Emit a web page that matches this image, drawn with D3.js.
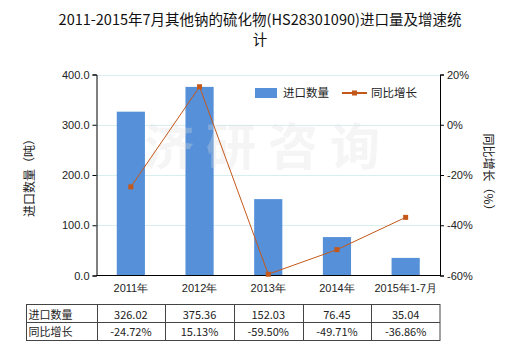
<!DOCTYPE html>
<html>
<head>
<meta charset="utf-8">
<script src="https://cdn.jsdelivr.net/npm/d3@7"></script>
<style>
  body { margin: 0; background: #fff; }
  svg { font-family: "Microsoft YaHei", "Noto Sans CJK SC", sans-serif; }
</style>
</head>
<body>
<svg id="chart" width="520" height="350"></svg>
<script>
var categories = ['2011年', '2012年', '2013年', '2014年', '2015年1-7月']
var volume = [326.02, 375.36, 152.03, 76.45, 35.04]
var growth = [-24.72, 15.13, -59.50, -49.71, -36.86]
var leftTicks = [0, 100, 200, 300, 400]
var rightTicks = [-60, -40, -20, 0, 20]

var svg = d3.select('#chart')
var plotLeft = 96.5, plotRight = 440, plotTop = 74.5, plotBottom = 275.5

var x = d3.scaleBand().domain(categories).range([plotLeft, plotRight])
  .paddingInner(0.59).paddingOuter(0.295)
var yL = d3.scaleLinear().domain([0, 400]).range([plotBottom, plotTop])
var yR = d3.scaleLinear().domain([-60, 20]).range([plotBottom, plotTop])

// title
svg.append('text').attr('x', 260).attr('y', 25).attr('text-anchor', 'middle')
  .attr('font-size', 14.5).attr('fill', '#111')
  .text('2011-2015年7月其他钠的硫化物(HS28301090)进口量及增速统')
svg.append('text').attr('x', 260).attr('y', 45).attr('text-anchor', 'middle')
  .attr('font-size', 14.5).attr('fill', '#111').text('计')

// grid lines
svg.selectAll('.grid').data(leftTicks.slice(1)).enter().append('line')
  .attr('x1', plotLeft).attr('x2', plotRight)
  .attr('y1', d => Math.round(yL(d)) + 0.5).attr('y2', d => Math.round(yL(d)) + 0.5)
  .attr('stroke', '#d8eef0').attr('stroke-width', 1)

// bars
svg.selectAll('.bar').data(volume).enter().append('rect')
  .attr('x', (d, i) => x(categories[i]))
  .attr('width', x.bandwidth())
  .attr('y', d => yL(d))
  .attr('height', d => plotBottom - yL(d))
  .attr('fill', '#5590d9')

// watermark, faint, over the bars
svg.append('text').attr('x', 268).attr('y', 165).attr('text-anchor', 'middle')
  .attr('font-size', 50).attr('font-weight', 'bold').attr('fill', '#dddddd')
  .attr('fill-opacity', 0.3).attr('letter-spacing', 12).text('济研咨询')

// axes
var axL = svg.append('g').attr('transform', `translate(${plotLeft},0)`)
  .call(d3.axisLeft(yL).tickValues(leftTicks).tickSize(4).tickFormat(d3.format('.1f')))
var axR = svg.append('g').attr('transform', `translate(${plotRight},0)`)
  .call(d3.axisRight(yR).tickValues(rightTicks).tickSize(4).tickFormat(d => d + '%'))
var axX = svg.append('g').attr('transform', `translate(0,${plotBottom})`)
  .call(d3.axisBottom(x).tickSize(0).tickPadding(9))
axX.select('.domain').attr('d', `M${plotLeft},0H${plotRight}`)
;[axL, axR, axX].forEach(a => {
  a.selectAll('text').attr('font-size', 11).attr('fill', '#222')
  a.select('.domain').attr('stroke', '#000')
  a.selectAll('.tick line').attr('stroke', '#000')
})

// axis titles
svg.append('text').attr('transform', 'translate(34,175) rotate(-90)')
  .attr('text-anchor', 'middle').attr('font-size', 12).attr('fill', '#222')
  .text('进口数量（吨）')
svg.append('text').attr('transform', 'translate(484,175) rotate(90)')
  .attr('text-anchor', 'middle').attr('font-size', 12).attr('fill', '#222')
  .text('同比增长（%）')

// line
var line = d3.line().x((d, i) => x(categories[i]) + x.bandwidth() / 2).y(d => yR(d))
svg.append('path').datum(growth).attr('d', line)
  .attr('fill', 'none').attr('stroke', '#c4581a').attr('stroke-width', 1)
svg.selectAll('.pt').data(growth).enter().append('rect')
  .attr('x', (d, i) => x(categories[i]) + x.bandwidth() / 2 - 2.5)
  .attr('y', d => yR(d) - 2.5).attr('width', 5).attr('height', 5)
  .attr('fill', '#c4581a')

// legend
var lg = svg.append('g').attr('font-size', 11.5).attr('fill', '#222')
lg.append('rect').attr('x', 255).attr('y', 88).attr('width', 22).attr('height', 10).attr('fill', '#5590d9')
lg.append('text').attr('x', 283).attr('y', 97).text('进口数量')
lg.append('line').attr('x1', 342).attr('x2', 367).attr('y1', 93).attr('y2', 93)
  .attr('stroke', '#c4581a').attr('stroke-width', 2)
lg.append('rect').attr('x', 352).attr('y', 90.5).attr('width', 5).attr('height', 5).attr('fill', '#c4581a')
lg.append('text').attr('x', 371).attr('y', 97).text('同比增长')

// data table
var colX = [26.5, 96.5].concat(categories.map((c, i) => x.step() * (i + 1) + plotLeft))
var rowY = [304.5, 322.5, 340.5]
var tbl = svg.append('g')
var rows = [['进口数量'].concat(volume.map(d => d.toFixed(2))),
            ['同比增长'].concat(growth.map(d => d.toFixed(2) + '%'))]
tbl.append('rect').attr('x', colX[0]).attr('y', rowY[0])
  .attr('width', colX[colX.length - 1] - colX[0]).attr('height', rowY[2] - rowY[0])
  .attr('fill', 'none').attr('stroke', '#444')
tbl.append('line').attr('x1', colX[0]).attr('x2', colX[colX.length - 1])
  .attr('y1', rowY[1]).attr('y2', rowY[1]).attr('stroke', '#444')
colX.slice(1, -1).forEach(cx => {
  tbl.append('line').attr('x1', Math.round(cx) + 0.5).attr('x2', Math.round(cx) + 0.5)
    .attr('y1', rowY[0]).attr('y2', rowY[2]).attr('stroke', '#444')
})
rows.forEach((r, ri) => {
  r.forEach((v, ci) => {
    var t = tbl.append('text').attr('font-size', 11).attr('fill', '#222')
      .attr('y', rowY[ri] + (ri === 0 ? 14 : 13)).text(v)
    if (ci === 0) t.attr('x', colX[0] + 2)
    else t.attr('x', (colX[ci] + colX[ci + 1]) / 2).attr('text-anchor', 'middle')
  })
})
</script>
</body>
</html>
